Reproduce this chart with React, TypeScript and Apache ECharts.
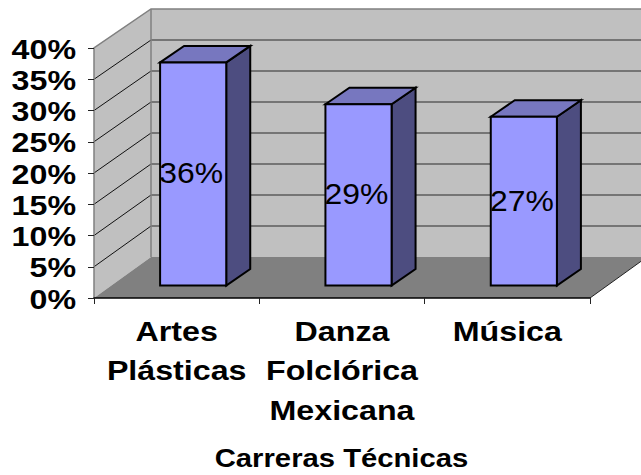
import React, { useEffect, useRef } from "react";
import * as echarts from "echarts";

const categories = ["Artes\nPlásticas", "Danza\nFolclórica\nMexicana", "Música"];
const values = [35.7, 29, 27];
const yTicks = [0, 5, 10, 15, 20, 25, 30, 35, 40];
const xAxisTitle = "Carreras Técnicas";

const FONT = '"Liberation Sans", Arial, sans-serif';
const STRETCH = 1.15;
const DX = 57;
const backDy = (v: number) => 41 - v / 20;

const wallRender = (_p: any, api: any) => {
  const [x0, y0] = api.coord([0, 0]);
  const band = api.size([1, 0])[0];
  const left = x0 - band / 2;
  const right = left + band * 3;
  const y40 = api.coord([0, 40])[1];
  const backBottom = y0 - backDy(0);
  const backTop = y40 - backDy(40);
  const gray = "#808080";
  const children: any[] = [
    { type: "polygon", shape: { points: [[left + DX, backBottom], [left + DX, backTop], [right + DX, backTop], [right + DX, backBottom]] }, style: { fill: "#C0C0C0" } },
    { type: "polygon", shape: { points: [[left, y0], [left + DX, backBottom], [left + DX, backTop], [left, y40]] }, style: { fill: "#C0C0C0" } },
    { type: "polygon", shape: { points: [[left, y0], [right, y0], [right + DX, backBottom], [left + DX, backBottom]] }, style: { fill: gray } },
  ];
  yTicks.filter((t) => t > 0 && t < 40).forEach((t) => {
    const y = api.coord([0, t])[1];
    const by = y - backDy(t);
    children.push(
      { type: "line", shape: { x1: left, y1: y, x2: left + DX, y2: by }, style: { stroke: "#111", lineWidth: 1 } },
      { type: "line", shape: { x1: left + DX, y1: by, x2: right + DX, y2: by }, style: { stroke: "#2a2a2a", lineWidth: 1 } },
    );
  });
  children.push(
    { type: "polyline", shape: { points: [[left, y0], [left, y40], [left + DX, backTop], [right + DX, backTop]] }, style: { stroke: gray, fill: "none", lineWidth: 1.5 } },
    { type: "line", shape: { x1: left + DX, y1: backTop, x2: left + DX, y2: backBottom }, style: { stroke: gray, lineWidth: 1.5 } },
    { type: "line", shape: { x1: right, y1: y0, x2: right + DX, y2: backBottom }, style: { stroke: "#222", lineWidth: 1 } },
  );
  return { type: "group", children };
};

const barRender = (_p: any, api: any) => {
  const i = api.value(0);
  const v = api.value(1);
  const [cx, yt] = api.coord([i, v]);
  const yb = api.coord([i, 0])[1];
  const w = api.size([1, 0])[0] * 0.4;
  const l = cx - w / 2 + 16.5;
  const r = l + w;
  const t = yt - 12.5;
  const b = yb - 12.5;
  const ddx = 24;
  const ddy = 16.5;
  const border = { stroke: "#000", lineWidth: 2, lineJoin: "miter" };
  return {
    type: "group",
    children: [
      { type: "polygon", shape: { points: [[r, t], [r + ddx, t - ddy], [r + ddx, b - ddy], [r, b]] }, style: { fill: "#4D4D80", ...border } },
      { type: "polygon", shape: { points: [[l, t], [l + ddx, t - ddy], [r + ddx, t - ddy], [r, t]] }, style: { fill: "#7777BF", ...border } },
      { type: "rect", shape: { x: l, y: t, width: w, height: b - t }, style: { fill: "#9999FF", ...border } },
      { type: "text", x: (l + r) / 2 - 2, y: (t + b) / 2 - 1, scaleX: 1.1, style: { text: `${Math.round(v)}%`, fill: "#000", font: `29px ${FONT}`, align: "center", verticalAlign: "middle" } },
    ],
  };
};

const yLabelRender = (_p: any, api: any) => {
  const t = api.value(1);
  const [x0, y] = api.coord([0, t]);
  const left = x0 - api.size([1, 0])[0] / 2;
  return { type: "text", x: left - 18, y: y + 1, scaleX: STRETCH, style: { text: `${t}%`, fill: "#000", font: `bold 28px ${FONT}`, align: "right", verticalAlign: "middle" } };
};

const xLabelRender = (p: any, api: any) => {
  const i = api.value(0);
  const [x, y] = api.coord([i, 0]);
  return { type: "text", x, y: y + 13.5, scaleX: STRETCH, style: { text: categories[p.dataIndex], fill: "#000", font: `bold 28px ${FONT}`, align: "center", verticalAlign: "top", lineHeight: 39.5 } };
};

export default function App() {
  const ref = useRef<HTMLDivElement>(null);
  useEffect(() => {
    const chart = echarts.init(ref.current!, undefined, { renderer: "svg" });
    chart.setOption({
      animation: false,
      backgroundColor: "#fff",
      grid: { left: 94, right: 51, top: 48, bottom: 177 },
      xAxis: {
        type: "category",
        data: categories,
        z: 6,
        axisLine: { lineStyle: { color: "#000", width: 1.5 } },
        axisTick: { show: true, length: 6, lineStyle: { color: "#222", width: 1 } },
        axisLabel: { show: false },
        splitLine: { show: false },
      },
      yAxis: {
        type: "value",
        min: 0,
        max: 40,
        interval: 5,
        z: 6,
        axisLine: { show: false },
        axisTick: { show: true, length: 6, lineStyle: { color: "#222", width: 1 } },
        axisLabel: { show: false },
        splitLine: { show: false },
      },
      graphic: [
        { type: "text", x: 341.5, y: 458, scaleX: 1.17, style: { text: xAxisTitle, fill: "#000", font: `bold 25px ${FONT}`, align: "center", verticalAlign: "middle" } },
      ],
      series: [
        { type: "custom", z: 1, silent: true, clip: false, data: [[0, 0]], renderItem: wallRender },
        { type: "custom", z: 3, silent: true, clip: false, data: values.map((v, i) => [i, v]), renderItem: barRender },
        { type: "custom", z: 4, silent: true, clip: false, data: yTicks.map((t) => [0, t]), renderItem: yLabelRender },
        { type: "custom", z: 4, silent: true, clip: false, data: categories.map((_c, i) => [i, 0]), renderItem: xLabelRender },
      ],
    });
    return () => chart.dispose();
  }, []);
  return <div ref={ref} style={{ position: "absolute", left: 0, top: 0, width: 641, height: 475 }} />;
}
